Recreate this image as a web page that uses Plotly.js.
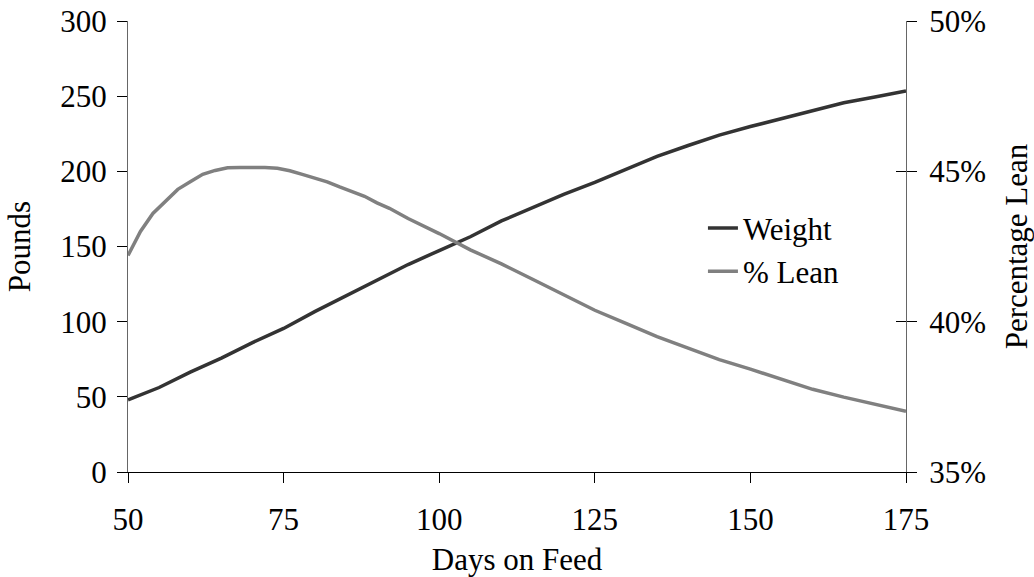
<!DOCTYPE html>
<html>
<head>
<meta charset="utf-8">
<script src="https://cdn.plot.ly/plotly-3.0.1.min.js"></script>
<style>html,body{margin:0;padding:0;background:#fff;}#chart{width:1034px;height:577px;}</style>
</head>
<body>
<div id="chart"></div>
<script>
// Days on feed
const weightDays = [50,55,60,65,70,75,80,85,90,95,100,105,110,115,120,125,130,135,140,145,150,155,160,165,170,175];
// Weight, pounds
const weightLbs = [48,56.2,66.4,75.8,86.1,95.5,106.7,117.3,127.7,138,147.3,156.5,167,175.7,184.7,192.6,201.5,210,217.2,224.1,229.8,235,240.6,245.6,249.5,253.5];
// % Lean
const leanDays = [50,52,54,56,58,60,62,64,66,68,70,72,74,76,78,80,82,84,86,88,90,92,95,100,105,110,115,120,125,130,135,140,145,150,155,160,165,170,175];
const leanPct = [42.2,43.0,43.6,44.0,44.4,44.65,44.9,45.03,45.12,45.13,45.13,45.13,45.1,45.02,44.9,44.79,44.65,44.48,44.34,44.17,43.95,43.77,43.43,42.93,42.39,41.92,41.41,40.9,40.38,39.94,39.5,39.12,38.74,38.42,38.1,37.75,37.49,37.26,37.02];

const xTicks = [50,75,100,125,150,175];
const yTicks = [0,50,100,150,200,250,300];
const y2Ticks = [35,40,45,50];
const y2TickText = ['35%','40%','45%','50%'];

const FONT = {family: '"Liberation Serif", "Times New Roman", serif', size: 31, color: '#000'};

const traces = [
  {x: weightDays, y: weightLbs, name: 'Weight', type: 'scatter', mode: 'lines',
   line: {color: '#333333', width: 3.5}, yaxis: 'y', legendgroup: 'a'},
  {x: leanDays, y: leanPct, name: '% Lean', type: 'scatter', mode: 'lines',
   line: {color: '#808080', width: 3.5}, yaxis: 'y2', legendgroup: 'b'},
  {x: [50], y: [35], yaxis: 'y3', mode: 'markers', marker: {opacity: 0}, showlegend: false, hoverinfo: 'skip'}
];

const layout = {
  width: 1034, height: 577,
  margin: {l: 128, r: 128, t: 21, b: 105},
  paper_bgcolor: '#fff', plot_bgcolor: '#fff',
  font: FONT,
  showlegend: true,
  legend: {x: 0.739, y: 0.6, xanchor: 'left', yanchor: 'top', bgcolor: 'rgba(0,0,0,0)',
           font: FONT, tracegroupgap: 16, traceorder: 'normal'},
  xaxis: {range: [50, 175], tickvals: xTicks, ticks: 'outside', ticklen: 10, tickcolor: '#000',
          showline: true, linecolor: '#000', linewidth: 1, showgrid: false, zeroline: false,
          ticklabelstandoff: 10,
          title: {text: 'Days on Feed', font: FONT, standoff: 20}, tickfont: FONT},
  yaxis: {range: [0, 300], tickvals: yTicks, ticks: 'outside', ticklen: 10, tickcolor: '#000',
          showline: true, linecolor: '#666', linewidth: 1, showgrid: false, zeroline: false,
          ticklabelstandoff: 4,
          title: {text: 'Pounds', font: FONT, standoff: 20}, tickfont: FONT},
  yaxis2: {range: [35, 50], tickvals: y2Ticks, ticktext: y2TickText, overlaying: 'y', side: 'right',
           ticks: 'outside', ticklen: 10, tickcolor: '#000',
           showline: true, linecolor: '#666', linewidth: 1, showgrid: false, zeroline: false,
           ticklabelstandoff: 6,
           title: {text: 'Percentage Lean', font: FONT, standoff: 21}, tickfont: FONT},
  yaxis3: {range: [35, 50], tickvals: y2Ticks, overlaying: 'y', side: 'right',
           ticks: 'inside', ticklen: 10, tickcolor: '#000', showticklabels: false,
           showline: false, showgrid: false, zeroline: false}
};

Plotly.newPlot('chart', traces, layout, {displayModeBar: false, staticPlot: true});
</script>
</body>
</html>
